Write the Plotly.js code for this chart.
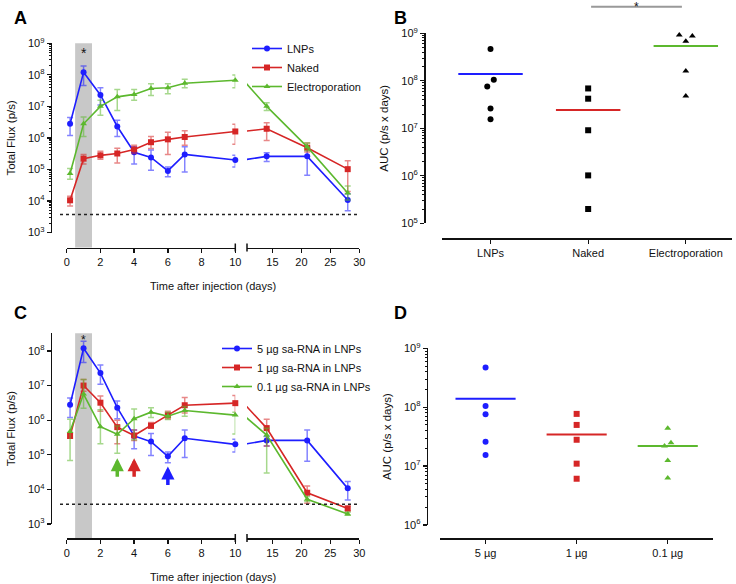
<!DOCTYPE html>
<html>
<head>
<meta charset="utf-8">
<script src="https://cdn.plot.ly/plotly-3.0.1.min.js"></script>
<style>body{margin:0;background:#fff}#fig{width:736px;height:584px}</style>
</head>
<body>
<div id="fig"></div>
<script>
// imaging days
var days = [0.2, 1, 2, 3, 4, 5, 6, 7, 10, 14, 21, 28];

// A - total flux (p/s): mean, upper and lower end of error bar
var lnpFlux = [2.8e6, 1.2e8, 2.3e7, 2.3e6, 3.5e5, 2.4e5, 9e4, 3e5, 2e5, 2.6e5, 2.6e5, 1.07e4];
var lnpHi   = [4.4e6, 1.9e8, 3.9e7, 3.6e6, 5.2e5, 4.1e5, 1.2e5, 5.2e5, 2.8e5, 3.4e5, 5.2e5, 1.7e4];
var lnpLo   = [1.2e6, 4.6e7, 1.1e7, 1.1e6, 1.5e5, 9.5e4, 5.9e4, 8.3e4, 1.2e5, 1.8e5, 6.5e4, 4.9e3];

var nakedFlux = [1.05e4, 2.2e5, 2.8e5, 3.2e5, 4.3e5, 7.3e5, 9e5, 1.07e6, 1.6e6, 1.95e6, 4.9e5, 1.02e5];
var nakedHi   = [1.4e4, 3e5, 3.8e5, 4.7e5, 5.9e5, 1.1e6, 1.5e6, 1.7e6, 2.7e6, 3e6, 6.9e5, 1.9e5];
var nakedLo   = [6.9e3, 1.5e5, 2.1e5, 1.6e5, 3.2e5, 4.6e5, 3e5, 5.9e5, 6.3e5, 8.3e5, 3.6e5, 2e4];

var epFlux = [7.4e4, 2.8e6, 1e7, 2e7, 2.4e7, 3.7e7, 3.9e7, 5.4e7, 6.7e7, 1e7, 5.2e5, 1.8e4];
var epHi   = [1.07e5, 4.6e6, 1.55e7, 3.4e7, 3.4e7, 5.2e7, 5.2e7, 7.2e7, 9.8e7, 1.3e7, 6.9e5, 3e4];
var epLo   = [4.9e4, 1.1e6, 5.2e6, 7.4e6, 1.55e7, 2.2e7, 2.5e7, 3.9e7, 3.9e7, 7.4e6, 3.9e5, 1.07e4];

// C - dose series (5 ug is the LNP group of A)
var dose1Flux = [3.5e5, 1e7, 3.2e6, 6.3e5, 3.6e5, 6.9e5, 1.4e6, 2.7e6, 3.1e6, 5.9e5, 8e3, 2.8e3];
var dose1Hi   = [4.2e5, 1.5e7, 5e6, 1e6, 5.2e5, 8.5e5, 1.8e6, 4.5e6, 5.2e6, 1.07e6, 1.26e4, 3.3e3];
var dose1Lo   = [3e5, 6.9e6, 1.8e6, 2.1e5, 2.6e5, 5.8e5, 1.1e6, 1.6e6, 1.4e6, 1.8e5, 4e3, 2.4e3];

var dose01Flux = [4.7e5, 5.7e6, 6.5e5, 3.9e5, 1.1e6, 1.7e6, 1.3e6, 1.9e6, 1.4e6, 3.7e5, 5.2e3, 1.95e3];
var dose01Hi   = [1.07e6, 1.5e7, 2e6, 6.8e5, 2.1e6, 2.3e6, 1.7e6, 2.5e6, 1.7e6, 5.8e5, 6.2e3, 2.2e3];
var dose01Lo   = [6.8e4, 2.2e6, 2.1e5, 1.1e5, 2.7e5, 1.2e6, 1.05e6, 1.3e6, 4e5, 3e4, 4.5e3, 1.8e3];

var detLimit = 3700;
// days where expression drops (arrows in C) and flux at arrow tip
var arrowDays = [3, 4, 6];
var arrowTips = [8e4, 8e4, 4.6e4];

// B / D - AUC (p/s x days), one value per animal
var groupsB = ['LNPs', 'Naked', 'Electroporation'];
var aucLnp    = [4.7e8, 1.05e8, 7.6e7, 2.6e7, 1.55e7];
var aucNaked  = [6.9e7, 4.2e7, 9.1e6, 1.02e6, 2e5];
var aucEp     = [9.2e8, 8.8e8, 6.8e8, 1.6e8, 4.8e7];

var groupsD = ['5 µg', '1 µg', '0.1 µg'];
var auc5   = [4.7e8, 1.05e8, 7.6e7, 2.6e7, 1.55e7];
var auc1   = [7.7e7, 5e7, 2.8e7, 1.1e7, 6.1e6];
var auc01  = [4.4e7, 2.5e7, 2.2e7, 1.25e7, 6.3e6];

var BLUE = 'rgb(30,30,255)', RED = 'rgb(214,38,38)', GREEN = 'rgb(92,184,46)';
var FONT = 'Arial, "Liberation Sans", sans-serif';
var W = 736, H = 584;
function fx(px) { return px / W; }
function fy(py) { return 1 - py / H; }

function fade(c) { return c.replace('rgb', 'rgba').replace(')', ',0.55)'); }

// one series on a broken time axis: left part, bridge line, right part
function timeSeries(name, flux, hi, lo, color, symbol, xa, xb, ya, legend) {
    var cut = days.indexOf(10);
    function err(a, b) {
        var up = [], dn = [];
        for (var i = a; i < b; i++) { up.push(hi[i] - flux[i]); dn.push(flux[i] - lo[i]); }
        return {type: 'data', symmetric: false, array: up, arrayminus: dn,
                color: fade(color), thickness: 1.5, width: 3};
    }
    var line = {color: color, width: 1.6};
    var marker = {color: color, symbol: symbol, size: 6};
    return [
        {x: days.slice(0, cut + 1), y: flux.slice(0, cut + 1), error_y: err(0, cut + 1),
         xaxis: xa, yaxis: ya, mode: 'lines+markers', name: name, line: line, marker: marker,
         cliponaxis: false, legend: legend},
        // starts at day 10, gets clipped by the right-hand axis
        {x: days.slice(cut), y: flux.slice(cut), xaxis: xb, yaxis: ya, mode: 'lines',
         line: line, showlegend: false, hoverinfo: 'skip'},
        {x: days.slice(cut + 1), y: flux.slice(cut + 1), error_y: err(cut + 1, days.length),
         xaxis: xb, yaxis: ya, mode: 'markers', marker: marker, showlegend: false, cliponaxis: false}
    ];
}

// spread points sideways when they are closer than gap (decades)
function dodge(vals, gap, step) {
    var order = vals.map(function(v, i) { return i; }).sort(function(a, b) { return vals[b] - vals[a]; });
    var offs = vals.map(function() { return 0; });
    var cluster = [];
    function flush() {
        var pat = cluster.length == 2 ? [0.5, -0.5] : cluster.length == 3 ? [-1, 1, 0] : [0];
        cluster.forEach(function(idx, k) { offs[idx] = (pat[k] || 0) * step; });
        cluster = [];
    }
    order.forEach(function(i) {
        if (cluster.length && Math.log10(vals[cluster[cluster.length - 1]]) - Math.log10(vals[i]) > gap) flush();
        cluster.push(i);
    });
    flush();
    return offs;
}

function dotGroup(k, vals, symbol, dotColor, meanColor, xa, ya, gap, step) {
    var offs = dodge(vals, gap, step);
    var mean = vals.reduce(function(s, v) { return s + v; }, 0) / vals.length;
    return [
        {x: offs.map(function(o) { return k + o; }), y: vals, xaxis: xa, yaxis: ya, mode: 'markers',
         marker: {color: dotColor, symbol: symbol, size: 6},
         showlegend: false, cliponaxis: false},
        {x: [k - 0.33, k + 0.33], y: [mean, mean], xaxis: xa, yaxis: ya, mode: 'lines',
         line: {color: meanColor, width: 2}, showlegend: false}
    ];
}

var data = [].concat(
    timeSeries('LNPs', lnpFlux, lnpHi, lnpLo, BLUE, 'circle', 'x', 'x2', 'y', 'legend'),
    timeSeries('Naked', nakedFlux, nakedHi, nakedLo, RED, 'square', 'x', 'x2', 'y', 'legend'),
    timeSeries('Electroporation', epFlux, epHi, epLo, GREEN, 'triangle-up', 'x', 'x2', 'y', 'legend'),
    timeSeries('5 µg sa-RNA in LNPs', lnpFlux, lnpHi, lnpLo, BLUE, 'circle', 'x4', 'x5', 'y3', 'legend2'),
    timeSeries('1 µg sa-RNA in LNPs', dose1Flux, dose1Hi, dose1Lo, RED, 'square', 'x4', 'x5', 'y3', 'legend2'),
    timeSeries('0.1 µg sa-RNA in LNPs', dose01Flux, dose01Hi, dose01Lo, GREEN, 'triangle-up', 'x4', 'x5', 'y3', 'legend2'),
    dotGroup(0, aucLnp, 'circle', '#000', BLUE, 'x3', 'y2', 0.15, 0.067),
    dotGroup(1, aucNaked, 'square', '#000', RED, 'x3', 'y2', 0.15, 0.067),
    dotGroup(2, aucEp, 'triangle-up', '#000', GREEN, 'x3', 'y2', 0.15, 0.067),
    dotGroup(0, auc5, 'circle', BLUE, BLUE, 'x6', 'y4', 0.1, 0.071),
    dotGroup(1, auc1, 'square', RED, RED, 'x6', 'y4', 0.1, 0.071),
    dotGroup(2, auc01, 'triangle-up', GREEN, GREEN, 'x6', 'y4', 0.1, 0.071)
);

function decades(lo, hi) {
    var v = [], t = [];
    for (var k = lo; k <= hi; k++) { v.push(Math.pow(10, k)); t.push('10<sup>' + k + '</sup>'); }
    return {tickvals: v, ticktext: t};
}
function minorVals(lo, hi) {
    var v = [];
    for (var k = lo; k < hi; k++) for (var m = 2; m < 10; m++) v.push(m * Math.pow(10, k));
    return v;
}

var axBase = {showline: true, linecolor: '#111', linewidth: 1.6, ticks: 'outside', ticklen: 4,
              tickwidth: 1.3, tickcolor: '#111', showgrid: false, zeroline: false,
              tickfont: {size: 11, color: '#111'}, anchor: 'free'};
function ax(extra) { return Object.assign({}, axBase, extra); }
function logY(lo, hi, domain, pos, title, withMinor) {
    var d = decades(lo, Math.floor(hi));
    var a = ax({type: 'log', range: [lo, hi], domain: domain, position: pos,
                tickmode: 'array', tickvals: d.tickvals, ticktext: d.ticktext,
                title: {text: title, font: {size: 11.5, color: '#111'}, standoff: 8}});
    if (withMinor) a.minor = {ticks: 'outside', ticklen: 2, tickcolor: '#111', tickwidth: 1,
                              tickmode: 'array', tickvals: minorVals(lo, Math.floor(hi))};
    return a;
}

var layout = {
    width: W, height: H,
    margin: {l: 0, r: 0, t: 0, b: 0},
    paper_bgcolor: '#fff', plot_bgcolor: 'rgba(0,0,0,0)',
    font: {family: FONT, size: 11, color: '#111'},
    hovermode: false,
    // A
    xaxis: ax({range: [0, 10], domain: [fx(66.7), fx(235.3)], position: fy(247.5), tickvals: [0, 2, 4, 6, 8, 10]}),
    xaxis2: ax({range: [10.6, 30], domain: [fx(247), fx(359.3)], position: fy(247.5), tickvals: [15, 20, 25, 30]}),
    yaxis: logY(3, 9, [fy(232.5), fy(43.3)], fx(50.7), 'Total Flux (p/s)', true),
    // B
    xaxis3: ax({range: [-0.5, 2.47], domain: [fx(441.7), fx(731.7)], position: fy(238.3),
                tickvals: [0, 1, 2], ticktext: groupsB}),
    yaxis2: logY(5, 9, [fy(223.3), fy(33.3)], fx(424), 'AUC (p/s x days)', true),
    // C
    xaxis4: ax({range: [0, 10], domain: [fx(66.7), fx(235.3)], position: fy(538), tickvals: [0, 2, 4, 6, 8, 10]}),
    xaxis5: ax({range: [10.6, 30], domain: [fx(247), fx(359.3)], position: fy(538), tickvals: [15, 20, 25, 30]}),
    yaxis3: logY(3, 8.51, [fy(524), fy(333.3)], fx(50.7), 'Total Flux (p/s)', false),
    // D
    xaxis6: ax({range: [-0.5, 2.5], domain: [fx(440), fx(713.3)], position: fy(538.3),
                tickvals: [0, 1, 2], ticktext: groupsD}),
    yaxis4: logY(6, 9, [fy(525), fy(348.3)], fx(426.7), 'AUC (p/s x days)', true),
    legend: {x: fx(247), y: fy(34), xanchor: 'left', yanchor: 'top', bgcolor: 'rgba(0,0,0,0)',
             font: {size: 11, color: '#111'}, tracegroupgap: 0},
    legend2: {x: fx(217), y: fy(334), xanchor: 'left', yanchor: 'top', bgcolor: 'rgba(0,0,0,0)',
              font: {size: 11, color: '#111'}, tracegroupgap: 0},
    shapes: [
        {type: 'rect', xref: 'x', x0: 0.5, x1: 1.5, yref: 'paper', y0: fy(247.5), y1: fy(43.3),
         fillcolor: '#c8c8c8', line: {width: 0}, layer: 'below'},
        {type: 'rect', xref: 'x4', x0: 0.5, x1: 1.5, yref: 'paper', y0: fy(538), y1: fy(333.3),
         fillcolor: '#c8c8c8', line: {width: 0}, layer: 'below'},
        {type: 'line', xref: 'paper', x0: fx(60), x1: fx(358), yref: 'y', y0: detLimit, y1: detLimit,
         line: {color: '#222', width: 1.5, dash: 'dot'}},
        {type: 'line', xref: 'paper', x0: fx(60), x1: fx(358), yref: 'y3', y0: detLimit, y1: detLimit,
         line: {color: '#222', width: 1.5, dash: 'dot'}},
        // significance bar Naked vs Electroporation
        {type: 'line', xref: 'x3', x0: 1.03, x1: 1.96, yref: 'paper', y0: fy(6.7), y1: fy(6.7),
         line: {color: '#999', width: 2}}
    ],
    annotations: []
};

// end caps at the axis break
[247.5, 538].forEach(function(py) {
    [235.3, 247].forEach(function(px) {
        layout.shapes.push({type: 'line', xref: 'paper', yref: 'paper', x0: fx(px), x1: fx(px),
                            y0: fy(py - 4), y1: fy(py + 4), line: {color: '#111', width: 1.5}});
    });
});

var ann = layout.annotations;
[['A', 12, 18], ['B', 392, 18], ['C', 12, 313], ['D', 392, 313]].forEach(function(p) {
    ann.push({text: '<b>' + p[0] + '</b>', xref: 'paper', yref: 'paper', x: fx(p[1]), y: fy(p[2]),
              xanchor: 'left', yanchor: 'middle', showarrow: false, font: {size: 18, color: '#000'}});
});
[286, 577].forEach(function(py) {
    ann.push({text: 'Time after injection (days)', xref: 'paper', yref: 'paper', x: fx(213), y: fy(py),
              xanchor: 'center', yanchor: 'middle', showarrow: false, font: {size: 11}});
});
// asterisks
ann.push({text: '*', xref: 'x', x: 1, yref: 'paper', y: fy(43.3), yanchor: 'top', showarrow: false, font: {size: 14}});
ann.push({text: '*', xref: 'x4', x: 1, yref: 'paper', y: fy(331), yanchor: 'top', showarrow: false, font: {size: 12}});
ann.push({text: '*', xref: 'x3', x: 1.5, yref: 'paper', y: 1, yanchor: 'top', yshift: 2, showarrow: false, font: {size: 12}});
// arrows in C
var arrowColors = [GREEN, RED, BLUE];
arrowDays.forEach(function(d, i) {
    ann.push({text: '', xref: 'x4', yref: 'y3', x: d, y: Math.log10(arrowTips[i]), ax: 0, ay: 20,
              showarrow: true, arrowhead: 2, arrowsize: 0.75, arrowwidth: 3.5, arrowcolor: arrowColors[i]});
});

Plotly.newPlot('fig', data, layout, {staticPlot: true});
</script>
</body>
</html>
